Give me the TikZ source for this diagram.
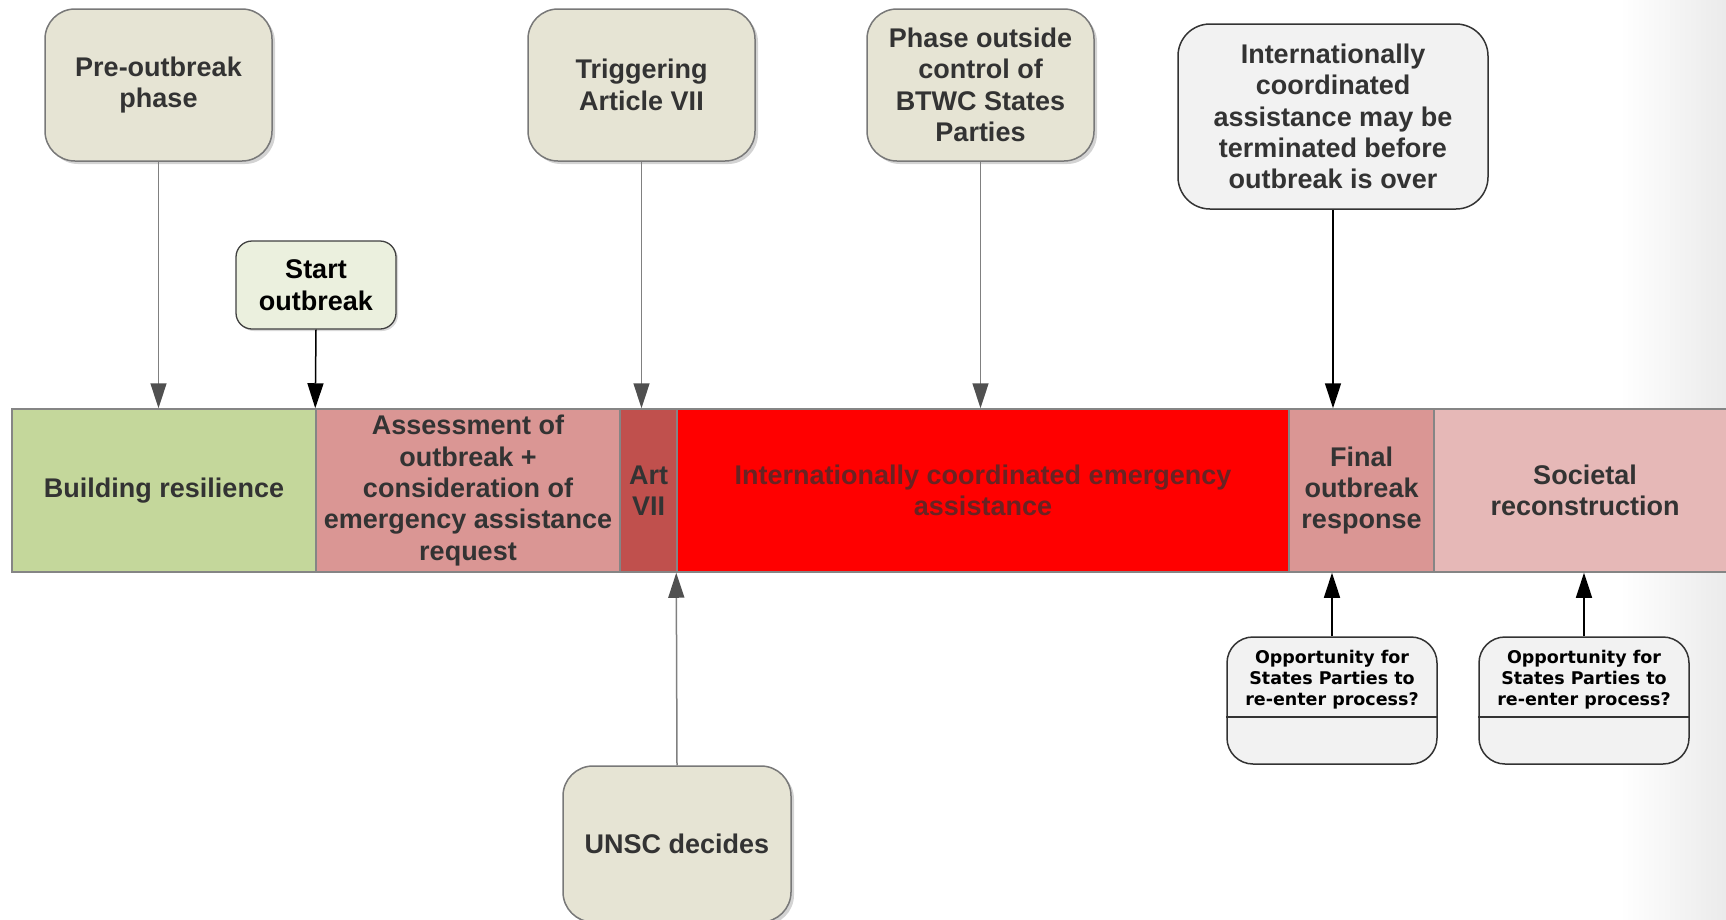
\documentclass[tikz,border=0pt]{standalone}
\usepackage{fontspec}
\setmainfont{Liberation Sans}
\newfontfamily\verdfont{DejaVu Sans}
\usetikzlibrary{arrows.meta,shadows,calc}
\definecolor{beige}{RGB}{230,228,212}
\definecolor{startg}{RGB}{235,240,222}
\definecolor{lgray}{RGB}{242,242,242}
\definecolor{cgreen}{RGB}{196,215,155}
\definecolor{cpink}{RGB}{218,150,148}
\definecolor{cdark}{RGB}{192,80,77}
\definecolor{cred}{RGB}{255,0,0}
\definecolor{clight}{RGB}{230,184,183}
\definecolor{txt}{RGB}{51,51,51}
\definecolor{redtxt}{RGB}{105,35,35}
\definecolor{bord}{RGB}{120,120,120}
\definecolor{arrline}{RGB}{128,128,128}
\definecolor{arrtip}{RGB}{80,80,80}
\begin{document}
\begin{tikzpicture}[x=1pt,y=-1pt,
  bigfont/.style={font=\fontsize{27}{31.4}\selectfont\bfseries},
  topbox/.style={bigfont, text=txt, align=center, rounded corners=30pt, draw=bord, line width=1.5pt,
    fill=beige, inner sep=2pt, drop shadow={shadow xshift=3pt, shadow yshift=-3pt, opacity=0.35}},
  startbox/.style={bigfont, text=black, align=center, rounded corners=16pt, draw=black!75, line width=1.3pt,
    fill=startg, inner sep=2pt, drop shadow={shadow xshift=2pt, shadow yshift=-2pt, opacity=0.3}},
  intlbox/.style={bigfont, text=txt, align=center, rounded corners=32pt, draw=black!80, line width=1.5pt,
    fill=lgray, inner sep=2pt},
  oppbox/.style={rounded corners=26pt, draw=black!80, line width=1.5pt, fill=lgray, inner sep=0pt,
    minimum width=210, minimum height=127},
  opptext/.style={font=\verdfont\fontsize{17.5}{21}\selectfont\bfseries, text=black, align=center, inner sep=0pt},
  seg/.style={bigfont, text=txt, align=center, draw=bord!90, line width=1.5pt, inner sep=0pt, minimum height=163},
  grayarr/.style={draw=arrline, line width=1.5pt, -{Triangle[length=25pt,width=16pt,color=arrtip]}},
  blackarr/.style={draw=black, line width=1.5pt, -{Triangle[length=25pt,width=16pt,color=black]}},
]
\useasboundingbox (0,0) rectangle (1726,919);
\fill[left color=white, right color=black!8] (1620,0) rectangle (1726,919);

% timeline segments
\node[seg, fill=cgreen, minimum width=304] (s1) at (164,490.5) {Building resilience};
\node[seg, fill=cpink, minimum width=304] (s2) at (468,490.5) {Assessment of\\outbreak +\\consideration of\\emergency assistance\\request};
\node[seg, fill=cdark, minimum width=57] (s3) at (648.5,490.5) {Art\\VII};
\node[seg, fill=cred, text=redtxt, minimum width=612] (s4) at (983,490.5) {Internationally coordinated emergency\\assistance};
\node[seg, fill=cpink, minimum width=145] (s5) at (1361.5,490.5) {Final\\outbreak\\response};
\node[seg, fill=clight, minimum width=302] (s6) at (1585,490.5) {Societal\\reconstruction};

% top boxes
\node[topbox, minimum width=227, minimum height=152] (pre) at (158.5,85) {Pre-outbreak\\phase};
\node[topbox, minimum width=227, minimum height=152] (trig) at (641.5,85) {Triggering\\Article VII};
\node[topbox, minimum width=227, minimum height=152] (phase) at (980.5,85) {Phase outside\\control of\\BTWC States\\Parties};
\node[intlbox, minimum width=310, minimum height=185] (intl) at (1333,116.5) {Internationally\\coordinated\\assistance may be\\terminated before\\outbreak is over};
\node[startbox, minimum width=160, minimum height=88] (start) at (316,285) {Start\\outbreak};
\node[topbox, minimum width=228, minimum height=156] (unsc) at (677,844) {UNSC decides};

% opportunity boxes
\node[oppbox] (opp1) at (1332,700.5) {};
\node[oppbox] (opp2) at (1584,700.5) {};
\draw[black!80, line width=1.5pt] ($(opp1.north west)!0.63!(opp1.south west)$) -- ($(opp1.north east)!0.63!(opp1.south east)$);
\draw[black!80, line width=1.5pt] ($(opp2.north west)!0.63!(opp2.south west)$) -- ($(opp2.north east)!0.63!(opp2.south east)$);
\node[opptext] (opp1t) at ($(opp1.north)+(0,43)$) {Opportunity for\\States Parties to\\re-enter process?};
\node[opptext] (opp2t) at ($(opp2.north)+(0,43)$) {Opportunity for\\States Parties to\\re-enter process?};

% connectors
\draw[grayarr] (pre.south) -- (pre.south |- s1.north);
\draw[blackarr] (start.south) -- (s2.north west);
\draw[grayarr] (trig.south) -- (trig.south |- s3.north);
\draw[grayarr] (phase.south) -- (phase.south |- s4.north);
\draw[blackarr] (intl.south) -- (intl.south |- s5.north);
\draw[grayarr] (unsc.north) -- (s4.south west);
\draw[blackarr] (opp1.north) -- (opp1.north |- s5.south);
\draw[blackarr] (opp2.north) -- (opp2.north |- s6.south);
\end{tikzpicture}
\end{document}
